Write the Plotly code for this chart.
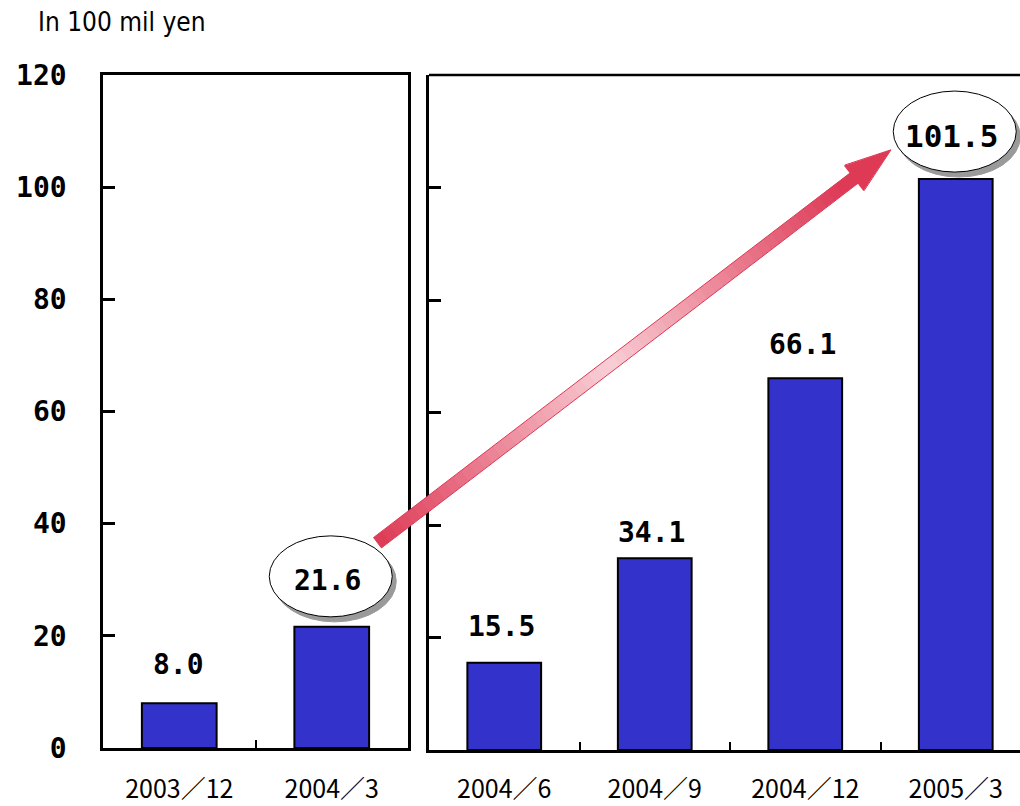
import plotly.graph_objects as go

# ---------------- data ----------------
left_categories = ["2003／12", "2004／3"]
left_values = [8.0, 21.6]
right_categories = ["2004／6", "2004／9", "2004／12", "2005／3"]
right_values = [15.5, 34.1, 66.1, 101.5]
y_ticks = [0, 20, 40, 60, 80, 100, 120]
unit_label = "In 100 mil yen"

# label offsets (px above bar top) -- style only
left_label_shift = [39, None]
right_label_shift = [36, 26, 34, None]

# ---------------- layout geometry ----------------
W, H = 1020, 806
L_DOM_X = [103 / W, 408 / W]
L_DOM_Y = [(H - 748) / H, (H - 75) / H]
R_DOM_X = [429 / W, 1.0]
R_DOM_Y = [(H - 750) / H, (H - 75) / H]
L_RANGE_X = [-0.5, 1.5]
R_RANGE_X = [-0.5, -0.5 + (1020 - 429) / 150.5]
Y_RANGE = [0, 120]

BAR_COLOR = "#3333cc"
num_font = dict(family="DejaVu Sans Mono", size=28, color="black", weight="bold")
cat_font = dict(family="Noto Sans CJK JP", size=25, color="black")

fig = go.Figure()
fig.add_trace(go.Bar(x=left_categories, y=left_values, xaxis="x", yaxis="y",
                     width=0.49, marker=dict(color=BAR_COLOR, line=dict(color="black", width=2)),
                     showlegend=False, hoverinfo="skip"))
fig.add_trace(go.Bar(x=right_categories, y=right_values, xaxis="x2", yaxis="y2",
                     width=0.49, marker=dict(color=BAR_COLOR, line=dict(color="black", width=2)),
                     showlegend=False, hoverinfo="skip"))

axis_common = dict(showgrid=False, zeroline=False, showline=True, linecolor="black",
                   linewidth=2.5, automargin=False)

fig.update_layout(
    width=W, height=H, margin=dict(l=0, r=0, t=0, b=0, pad=0, autoexpand=False), autosize=False,
    paper_bgcolor="white", plot_bgcolor="white",
    xaxis=dict(domain=L_DOM_X, anchor="y", range=L_RANGE_X, type="category",
               categoryorder="array", categoryarray=left_categories,
               mirror=True, ticks="inside", tickson="boundaries", ticklen=8, tickwidth=2,
               tickcolor="black", tickfont=cat_font, ticklabelstandoff=17, **axis_common),
    yaxis=dict(domain=L_DOM_Y, anchor="x", range=Y_RANGE, tickvals=y_ticks,
               ticktext=[str(v) for v in y_ticks],
               mirror=True, ticks="inside", ticklen=12, tickwidth=2.5, tickcolor="black",
               tickfont=num_font, ticklabelstandoff=28, **axis_common),
    xaxis2=dict(domain=R_DOM_X, anchor="y2", range=R_RANGE_X, type="category",
                categoryorder="array", categoryarray=right_categories,
                ticks="inside", tickson="boundaries", ticklen=8, tickwidth=2,
                tickcolor="black", tickfont=cat_font, ticklabelstandoff=15, **axis_common),
    yaxis2=dict(domain=R_DOM_Y, anchor="x2", range=Y_RANGE, tickvals=y_ticks,
                showticklabels=False, ticks="inside", ticklen=12, tickwidth=2.5,
                tickcolor="black", **axis_common),
)

# top line of right panel (right edge runs off the page)
shapes = [dict(type="line", xref="x2 domain", yref="y2 domain", x0=0, x1=1, y0=1, y1=1,
               line=dict(color="black", width=2.5), layer="above")]

# ---------- helpers: data -> pixel -> paper ----------
def to_px(xv, yv, dom_x, dom_y, rx):
    px = dom_x[0] * W + (xv - rx[0]) / (rx[1] - rx[0]) * (dom_x[1] - dom_x[0]) * W
    py = H - (dom_y[0] * H + (yv - Y_RANGE[0]) / (Y_RANGE[1] - Y_RANGE[0]) * (dom_y[1] - dom_y[0]) * H)
    return px, py

def paper(p):
    return p[0] / W, 1 - p[1] / H

# ---------- value labels ----------
annotations = []
for i, (c, v) in enumerate(zip(left_categories, left_values)):
    if left_label_shift[i] is not None:
        annotations.append(dict(x=c, y=v, xref="x", yref="y", text=f"{v:.1f}", showarrow=False,
                                yanchor="middle", yshift=left_label_shift[i], xshift=-1, font=num_font))
for i, (c, v) in enumerate(zip(right_categories, right_values)):
    if right_label_shift[i] is not None:
        annotations.append(dict(x=c, y=v, xref="x2", yref="y2", text=f"{v:.1f}", showarrow=False,
                                yanchor="middle", yshift=right_label_shift[i], xshift=-3, font=num_font))

# ---------- ellipse callouts ----------
def callout(xref, yref, xi, v, gap, text, size, xoff=0):
    ry, rx = 40.5, 61.5
    y0 = gap
    y1 = gap + 2 * ry
    for dx, dy, fill, lc in [(4, -5, "#9a9a9a", "#9a9a9a"), (0, 0, "white", "black")]:
        shapes.append(dict(type="circle", xref=xref, yref=yref, xsizemode="pixel", ysizemode="pixel",
                           xanchor=xi, yanchor=v,
                           x0=-rx + dx + xoff, x1=rx + dx + xoff, y0=y0 + dy, y1=y1 + dy,
                           fillcolor=fill, line=dict(color=lc, width=1), layer="above"))
    annotations.append(dict(x=xi, y=v, xref=xref, yref=yref, text=text, showarrow=False,
                            yanchor="middle", yshift=gap + ry - 4, xshift=xoff - 3,
                            font=dict(family="DejaVu Sans Mono", size=size, color="black", weight="bold")))

callout("x", "y", 1, left_values[1], 10, f"{left_values[1]:.1f}", 28, xoff=-1)
callout("x2", "y2", 3, right_values[3], 7, f"{right_values[3]:.1f}", 31, xoff=-1)

# ---------- gradient arrow ----------
tail = to_px(1.3, 36.6, L_DOM_X, L_DOM_Y, L_RANGE_X)
tip = to_px(2.57, 106.7, R_DOM_X, R_DOM_Y, R_RANGE_X)
dx, dy = tip[0] - tail[0], tip[1] - tail[1]
length = (dx * dx + dy * dy) ** 0.5
ux, uy = dx / length, dy / length
nx, ny = -uy, ux
shaft_hw = 6.5
head_hw = 16
head_len = 46
red = (222, 58, 86)
pink = (248, 206, 214)

def col(t):
    f = max(0.0, 1 - abs(t - 0.45) / 0.45)
    c = [round(red[k] + (pink[k] - red[k]) * f) for k in range(3)]
    return f"rgb({c[0]},{c[1]},{c[2]})"

def pt(s, off):
    return (tail[0] + ux * s + nx * off, tail[1] + uy * s + ny * off)

def path(points):
    ps = [paper(p) for p in points]
    return "M " + " L ".join(f"{x:.5f},{y:.5f}" for x, y in ps) + " Z"

shaft_len = length - head_len
N = 60
for k in range(N):
    s0 = shaft_len * k / N
    s1 = min(shaft_len, shaft_len * (k + 1) / N + 0.8)
    c = col((s0 + s1) / 2 / length)
    shapes.append(dict(type="path", xref="paper", yref="paper",
                       path=path([pt(s0, -shaft_hw), pt(s1, -shaft_hw), pt(s1, shaft_hw), pt(s0, shaft_hw)]),
                       fillcolor=c, line=dict(width=0), layer="above"))
# head
shapes.append(dict(type="path", xref="paper", yref="paper",
                   path=path([pt(shaft_len - 1, -head_hw), pt(length, 0), pt(shaft_len - 1, head_hw)]),
                   fillcolor=col(1.0), line=dict(width=0), layer="above"))
# outline
outline = [pt(0, -shaft_hw), pt(shaft_len, -shaft_hw), pt(shaft_len, -head_hw), pt(length, 0),
           pt(shaft_len, head_hw), pt(shaft_len, shaft_hw), pt(0, shaft_hw)]
shapes.append(dict(type="path", xref="paper", yref="paper", path=path(outline),
                   fillcolor="rgba(0,0,0,0)", line=dict(color="rgb(222,58,86)", width=1), layer="above"))

# ---------- unit label ----------
annotations.append(dict(x=36 / W, y=1 - 5 / H, xref="paper", yref="paper", text=unit_label,
                        showarrow=False, xanchor="left", yanchor="top",
                        font=dict(family="Liberation Sans Narrow, Arial Narrow, DejaVu Sans Condensed, Liberation Sans",
                                  size=26, color="black")))

fig.update_layout(shapes=shapes, annotations=annotations)
fig.write_html("out.html")
